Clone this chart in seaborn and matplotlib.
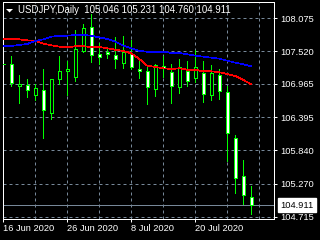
import matplotlib
matplotlib.use("Agg")
import matplotlib.pyplot as plt
import matplotlib.transforms as mtransforms
from matplotlib.patches import Polygon
import numpy as np
import pandas as pd
import seaborn as sns

symbol = "USDJPY,Daily"

opens = [107.301, 107.296, 106.934, 106.945, 106.771, 106.856, 106.476, 107.042,
         107.177, 107.086, 107.521, 107.923, 107.476, 107.504, 107.448, 107.313,
         107.462, 107.216, 107.182, 106.873, 107.262, 107.161, 106.907, 107.188,
         107.069, 107.144, 106.771, 107.110, 106.822, 106.043, 105.399, 105.046]
highs = [107.594, 107.437, 107.115, 107.047, 106.957, 107.216, 107.047, 107.437,
         107.352, 107.877, 107.978, 108.143, 107.662, 107.589, 107.753, 107.775,
         107.699, 107.381, 107.255, 107.296, 107.437, 107.296, 107.381, 107.352,
         107.538, 107.352, 107.284, 107.216, 106.929, 106.099, 105.675, 105.231]
lows = [107.199, 106.934, 106.646, 106.747, 106.691, 106.053, 106.365, 106.962,
        106.776, 107.018, 107.499, 107.340, 107.296, 107.403, 107.238, 107.228,
        107.208, 107.069, 106.629, 106.764, 107.086, 106.646, 106.815, 106.929,
        107.001, 106.663, 106.691, 106.703, 105.663, 105.111, 104.930, 104.760]
closes = [107.296, 106.984, 106.957, 106.856, 106.890, 106.517, 107.042, 107.177,
          107.216, 107.550, 107.906, 107.454, 107.425, 107.465, 107.381, 107.499,
          107.242, 107.177, 106.907, 107.284, 107.228, 106.929, 107.255, 107.008,
          107.255, 106.788, 107.144, 106.839, 106.128, 105.365, 105.078, 104.911]

ma_red = [107.719, 107.719, 107.719, 107.702, 107.691, 107.645, 107.618, 107.594,
          107.584, 107.601, 107.601, 107.589, 107.589, 107.567, 107.543, 107.521,
          107.482, 107.386, 107.272, 107.250, 107.228, 107.216, 107.228, 107.204,
          107.204, 107.177, 107.177, 107.161, 107.132, 107.098, 107.030, 106.957]
ma_blue = [107.611, 107.606, 107.623, 107.640, 107.691, 107.719, 107.763, 107.780,
           107.780, 107.792, 107.792, 107.780, 107.753, 107.724, 107.682, 107.611,
           107.567, 107.521, 107.509, 107.509, 107.509, 107.487, 107.487, 107.465,
           107.442, 107.425, 107.408, 107.391, 107.357, 107.323, 107.296, 107.262]

price_ticks = [108.075, 107.520, 106.965, 106.395, 105.840, 105.270, 104.715]
price_labels = ["108.075", "107.520", "106.965", "106.395", "105.840", "105.270", "104.715"]
date_tick_bars = [0, 8, 16, 24]
date_tick_labels = ["16 Jun 2020", "26 Jun 2020", "8 Jul 2020", "20 Jul 2020"]

sns.set_theme(style="dark", rc={"axes.facecolor": "black", "figure.facecolor": "black"})
plt.rcParams['font.family'] = ['Liberation Sans', 'DejaVu Sans']

FS = 6.7
LW = 0.72
GRID = '#778899'
LIME = '#00FF00'

df = pd.DataFrame({
    'bar': np.arange(len(opens)),
    'open': opens, 'high': highs, 'low': lows, 'close': closes,
    'ma_red': ma_red, 'ma_blue': ma_blue,
})

fig = plt.figure(figsize=(3.2, 2.4), dpi=100, facecolor='black')
ax = fig.add_axes([2.7 / 320, 20.7 / 240, 271.6 / 320, 217.6 / 240])
ax.set_facecolor('black')

# grid
ax.set_yticks(price_ticks)
ax.set_yticklabels(price_labels)
ax.set_xticks(date_tick_bars)
ax.set_xticklabels(date_tick_labels, ha='left')
ax.set_xticks(np.arange(0, 33, 4), minor=True)
ax.grid(True, which='both', color=GRID, linestyle=(0, (3, 3)), lw=LW, zorder=0)
ax.set_axisbelow(True)

# current price line
ax.axhline(closes[-1], color=GRID, lw=LW, zorder=1, antialiased=False)

# candles
x = df['bar'].values
o = df['open'].values
c = df['close'].values
bull = c >= o
bottom = np.minimum(o, c)
height = np.maximum(np.abs(c - o), 0.004)
ax.vlines(x, df['low'], df['high'], color=LIME, lw=LW, zorder=2, antialiased=False)
ax.bar(x, height, bottom=bottom, width=0.42,
       color=np.where(bull, 'black', 'white'), edgecolor=LIME, linewidth=LW,
       zorder=3, antialiased=False)

# moving averages
sns.lineplot(data=df, x='bar', y='ma_red', color='#FF0000', lw=0.5, ax=ax,
             legend=False, zorder=4, antialiased=False)
sns.lineplot(data=df, x='bar', y='ma_blue', color='#0000FF', lw=0.5, ax=ax,
             legend=False, zorder=4, antialiased=False)

ax.set_xlim(-0.075, 33.875)
ax.set_ylim(104.671, 108.356)
ax.set_xlabel('')
ax.set_ylabel('')

ax.yaxis.tick_right()
ax.tick_params(axis='y', which='major', right=True, left=False, length=2.2, width=LW,
               color='white', labelcolor='white', labelsize=FS, pad=2.0)
ax.tick_params(axis='x', which='major', bottom=True, length=2.2, width=LW,
               color='white', labelcolor='white', labelsize=FS, pad=1.5)
ax.tick_params(axis='x', which='minor', length=0)
for s in ax.spines.values():
    s.set_visible(True)
    s.set_color('white')
    s.set_linewidth(LW)

# current price label
trans = mtransforms.blended_transform_factory(ax.transAxes, ax.transData)
ax.text(1.0 + 6.0 / 271.6, closes[-1], f"{closes[-1]:.3f}", transform=trans,
        ha='left', va='center', color='black', fontsize=FS, clip_on=False,
        bbox=dict(boxstyle='square,pad=0.3', facecolor='white', edgecolor='white'))

# title
title = f"{symbol}  {opens[-1]:.3f} {highs[-1]:.3f} {lows[-1]:.3f} {closes[-1]:.3f}"
fig.text(18 / 320, 1 - 10 / 240, title, ha='left', va='center', color='white', fontsize=6.9)
tri = Polygon([[6 / 320, 1 - 9 / 240], [13 / 320, 1 - 9 / 240], [9.5 / 320, 1 - 12.5 / 240]],
              closed=True, transform=fig.transFigure, facecolor='white', edgecolor='none')
fig.patches.append(tri)

fig.savefig('out.png', dpi=100, facecolor='black')
